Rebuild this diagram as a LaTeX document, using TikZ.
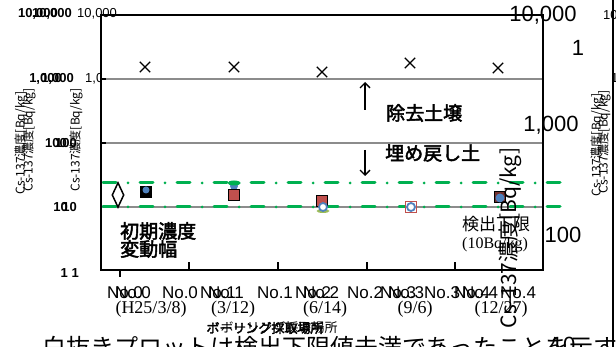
\documentclass[tikz,border=0pt]{standalone}
\usepackage{fontspec}
\setmainfont{Liberation Sans}
\newfontfamily\jpfont{Noto Sans CJK JP}
\newfontfamily\jpbold[FakeBold=2.5]{Noto Sans CJK JP}
\newfontfamily\tmfont{Liberation Serif}
\usetikzlibrary{shapes.misc,shapes.geometric,arrows.meta}
\definecolor{grn}{RGB}{0,176,80}
\definecolor{redm}{RGB}{192,80,77}
\definecolor{bluem}{RGB}{79,129,189}
\definecolor{lgrn}{RGB}{155,187,89}
\definecolor{gridg}{RGB}{140,140,140}
\newcommand{\fs}[1]{\fontsize{#1}{#1}\selectfont}

\begin{document}
\begin{tikzpicture}[x=1pt,y=-1pt]
\tikzstyle{lab}=[inner sep=0pt]
\tikzstyle{lnum}=[lab,anchor=east,font=\fs{13}\bfseries]
\tikzstyle{rnum}=[lab,font=\fs{22}]
\tikzstyle{ylab}=[lab,rotate=90,font=\jpfont\fs{12}]
\tikzstyle{cross}=[cross out,draw,line width=1.3pt,minimum size=9pt,inner sep=0pt]
\tikzstyle{sq}=[draw=black,line width=1.2pt,minimum size=11pt,inner sep=0pt]
\tikzstyle{dotb}=[circle,fill=bluem,minimum size=8pt,inner sep=0pt]
\tikzstyle{ringb}=[circle,draw=bluem,fill=white,line width=1.8pt,minimum size=8pt,inner sep=0pt]
\tikzstyle{gline}=[grn,line width=3pt,line cap=round,dash pattern=on 13pt off 12pt on 0pt off 12pt]
\tikzstyle{grid}=[gridg,line width=1.5pt]
\tikzstyle{nolab}=[lab,font=\fs{17}]
\tikzstyle{date}=[lab,font=\tmfont\fs{18}]
\tikzstyle{jpb}=[lab,anchor=west,font=\jpbold\fs{19}]
\useasboundingbox (0,0) rectangle (616,347);

% left axis labels
\node[lnum] (p1) at (58,14) {10,000};
\node[lnum] (q1) at (72,14) {10,000};
\node[lnum] (p2) at (62,79) {1,000};
\node[lnum] (q2) at (74,79) {1,000};
\node[lab,anchor=west,font=\fs{13}] (r2) at (85,79) {1,000};
\node[lnum] (p3) at (67,143) {100};
\node[lnum] (q3) at (77,143) {100};
\node[lnum] (p4) at (68,207) {10};
\node[lnum] (q4) at (77,207) {10};
\node[lnum] (p5) at (68,273) {1};
\node[lnum] (q5) at (79,273) {1};
\node[ylab] (yl1) at (21,143) {Cs-137濃度[Bq/kg]};
\node[ylab] (yl2) at (29,140) {Cs-137濃度[Bq/kg]};
\node[ylab] (yl3) at (76,140) {Cs-137濃度[Bq/kg]};

% plot area
\fill[white] (101,15) rectangle (543,270);
\draw[grid] (101,79) -- (543,79);
\draw[grid] (101,143) -- (543,143);
\draw[grid] (101,207) -- (543,207);
\draw[gline] (103,183) -- (565,183);
\draw[gline] (103,207) -- (565,207);
\draw[line width=1.8pt] (101,15) rectangle (543,270);
\draw[line width=1.2pt] (101,79) -- (106,79);
\draw[line width=1.2pt] (101,143) -- (106,143);
\draw[line width=1.2pt] (120,270) -- (120,277);
\draw[line width=1.2pt] (189,270) -- (189,262);
\draw[line width=1.2pt] (278,270) -- (278,262);
\draw[line width=1.2pt] (367,270) -- (367,262);
\draw[line width=1.2pt] (455,270) -- (455,262);
\node[lab,anchor=west,font=\fs{13}] (r1) at (77,14) {10,000};

% removed soil
\node[cross] (x0) at (145,67) {};
\node[cross] (x1) at (234,67) {};
\node[cross] (x2) at (322,72) {};
\node[cross] (x3) at (410,63) {};
\node[cross] (x4) at (498,68) {};

% backfill soil
\node[sq,fill=black] (s0) at (146,192) {};
\node[dotb,minimum size=7pt] (c0) at (146,190) {};
\node[dotb] (c1) at (234,186) {};
\node[ellipse,fill=grn,minimum width=13pt,minimum height=5pt,inner sep=0pt] (e1) at (234,183) {};
\node[sq,fill=redm] (s1) at (234,195) {};
\node[sq,fill=redm] (s2) at (322,201) {};
\node[ellipse,fill=lgrn,minimum width=13pt,minimum height=4pt,inner sep=0pt] (e2) at (323,211) {};
\node[ringb] (c2) at (323,207) {};
\node[sq,draw=redm,fill=white,line width=1.5pt] (s3) at (411,207) {};
\node[ringb] (c3) at (411,207) {};
\node[sq,fill=redm!60!black] (s4) at (500,197) {};
\node[dotb,minimum size=9pt] (c4) at (500,198) {};

% range of initial concentration
\node[diamond,draw,line width=1.5pt,fill=white,minimum width=12pt,minimum height=25pt,inner sep=0pt,aspect=0.5] (dm) at (118,195) {};
\node[jpb] (t3) at (120,231) {初期濃度};
\node[jpb] (t4) at (120,249) {変動幅};

\node[jpb] (t1) at (386,113) {除去土壌};
\node[jpb] (t2) at (385,153) {埋め戻し土};
\coordinate (a1) at (365,110);
\coordinate (a2) at (365,82);
\coordinate (a3) at (365,150);
\coordinate (a4) at (365,176);
\draw[line width=1.4pt,-{Straight Barb[length=5pt,width=10pt]}] (a1) -- (a2);
\draw[line width=1.4pt,-{Straight Barb[length=5pt,width=10pt]}] (a3) -- (a4);

\node[lab,anchor=west,font=\jpfont\fs{17}] (dl1) at (462,224) {検出下限};
\node[lab,anchor=west,font=\tmfont\fs{16}] (dl2) at (462,245) {(10Bq/kg)};

% sampling points
\node[nolab] (n0a) at (125,293) {No.0};
\node[nolab] (n0b) at (133,293) {No.0};
\node[nolab] (n0c) at (180,293) {No.0};
\node[nolab] (n1a) at (218,293) {No.1};
\node[nolab] (n1b) at (226,293) {No.1};
\node[nolab] (n1c) at (275,293) {No.1};
\node[nolab] (n2a) at (313,293) {No.2};
\node[nolab] (n2b) at (321,293) {No.2};
\node[nolab] (n2c) at (365,293) {No.2};
\node[nolab] (n3a) at (398,293) {No.3};
\node[nolab] (n3b) at (406,293) {No.3};
\node[nolab] (n3c) at (442,293) {No.3};
\node[nolab] (n4a) at (472,293) {No.4};
\node[nolab] (n4b) at (480,293) {No.4};
\node[nolab] (n4c) at (518,293) {No.4};
\node[date] (d0) at (151,309) {(H25/3/8)};
\node[date] (d1) at (233,309) {(3/12)};
\node[date] (d2) at (325,309) {(6/14)};
\node[date] (d3) at (415,309) {(9/6)};
\node[date] (d4) at (501,309) {(12/27)};
\node[lab,font=\jpbold\fs{13}] (bx1) at (265,328) {ボーリング採取場所};
\node[lab,font=\jpfont\fs{13}] (bx2) at (279,328) {ボーリング採取場所};

% right axis
\node[rnum] (rn1) at (543,15) {10,000};
\node[rnum] (rn2) at (578,48) {1};
\node[rnum] (rn3) at (551,125) {1,000};
\node[rnum] (rn4) at (563,235) {100};
\node[rnum] (rn5) at (563,345) {10};
\node[lab,rotate=90,font=\jpfont\fs{21}] (yl4) at (510,238) {Cs-137濃度[Bq/kg]};
\node[ylab] (yl5) at (597,145) {Cs-137濃度[Bq/kg]};
\node[ylab] (yl6) at (604,142) {Cs-137濃度[Bq/kg]};
\node[lab,anchor=west,font=\fs{13}] (rr1) at (603,15) {10};
\node[lab,anchor=west,font=\fs{13}] (rr2) at (611,78) {1};
\draw[line width=1.2pt] (613,0) -- (613,347);

\node[lab,anchor=north west,font=\jpfont\fs{24}] (nt) at (42,336) {白抜きプロットは検出下限値未満であったことを示す};
\end{tikzpicture}
\end{document}
